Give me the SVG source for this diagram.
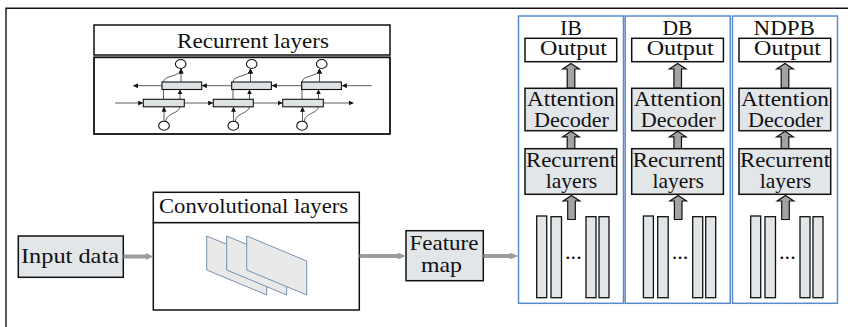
<svg xmlns="http://www.w3.org/2000/svg" width="848" height="327" viewBox="0 0 848 327">
<style>
text{font-family:"Liberation Serif","Times New Roman",serif;font-size:21px;fill:#111}
.box{fill:#fff;stroke:#111;stroke-width:1.5}
.gbox{fill:#e2e6e9;stroke:#111;stroke-width:1.5}
.cell{fill:#dde2e5;stroke:#111;stroke-width:1.1}
.circ{fill:#fff;stroke:#111;stroke-width:1.1}
.thin{fill:none;stroke:#333;stroke-width:0.8;marker-end:url(#ah)}
.panel{fill:#fff;stroke:#5a8ccb;stroke-width:1.5}
.barr{fill:#e2e6e9;stroke:#111;stroke-width:1.3}
.blk{fill:#a3a3a3;stroke:#111;stroke-width:1.2}
.gline{stroke:#9c9c9c;stroke-width:4}
.ghead{fill:#9c9c9c}
.plane{fill:#e9e9e9;stroke:#7792b0;stroke-width:1}
</style>
<defs>
<marker id="ah" viewBox="0 0 6 6" refX="5.5" refY="3" markerWidth="5" markerHeight="5" markerUnits="userSpaceOnUse" orient="auto"><path d="M0,0L6,3L0,6z" fill="#111"/></marker>
<g id="panelBody">
<rect class="box" x="525" y="38.3" width="91.7" height="23.4"/>
<text x="540" y="54.5" textLength="67" lengthAdjust="spacingAndGlyphs">Output</text>
<path class="blk" d="M571,63.5L579.3,69L574.8,69L574.8,88L567.2,88L567.2,69L562.7,69Z"/>
<rect class="gbox" x="525" y="88.3" width="91.7" height="42.4"/>
<text x="527" y="105.5" textLength="88" lengthAdjust="spacingAndGlyphs">Attention</text>
<text x="534" y="127" textLength="75" lengthAdjust="spacingAndGlyphs">Decoder</text>
<path class="blk" d="M571,131.3L579.3,136.8L574.8,136.8L574.8,148.5L567.2,148.5L567.2,136.8L562.7,136.8Z"/>
<rect class="gbox" x="525" y="148.7" width="91.7" height="45.6"/>
<text x="526" y="167" textLength="90" lengthAdjust="spacingAndGlyphs">Recurrent</text>
<text x="545.7" y="188" textLength="51.6" lengthAdjust="spacingAndGlyphs">layers</text>
<path class="blk" d="M571.5,195.5L579.8,201L575.3,201L575.3,219.5L567.7,219.5L567.7,201L563.2,201Z"/>
<rect class="barr" x="536.7" y="216" width="10" height="81.7"/>
<rect class="barr" x="551" y="216.7" width="10.5" height="81"/>
<rect class="barr" x="586" y="216.7" width="10" height="81"/>
<rect class="barr" x="599" y="216.7" width="10" height="81"/>
<text x="565" y="259" textLength="16.7" lengthAdjust="spacingAndGlyphs">...</text>
</g>
<g id="rcell">
<path class="thin" d="M164,121.2L164,107.2"/>
<path class="thin" d="M165.5,121.5C167,112 180,114 180,106L180,89.8"/>
<path class="thin" d="M163.5,99.3L163.5,82C163.5,75 181,77 181,69"/>
<path class="thin" d="M181,82L181,69"/>
</g>
</defs>

<path d="M6,327L6,8.3L848,8.3" fill="none" stroke="#111" stroke-width="1.4"/>

<g id="recurrent-layers">
<rect class="box" x="94" y="25" width="296" height="30"/>
<text x="177" y="48" textLength="152" lengthAdjust="spacingAndGlyphs">Recurrent layers</text>
<rect class="box" x="94" y="57.3" width="296" height="76.7" style="stroke-width:1.8"/>
<g id="rnn-arrows">
<path class="thin" d="M371.7,85.7L342.2,85.7"/>
<path class="thin" d="M301.7,85.7L272.2,85.7"/>
<path class="thin" d="M231.7,85.7L202.2,85.7"/>
<path class="thin" d="M162,85.7L133.3,85.7"/>
<path class="thin" d="M115,103L142.8,103"/>
<path class="thin" d="M184.3,103L212.8,103"/>
<path class="thin" d="M253.3,103L282.2,103"/>
<path class="thin" d="M323.3,103L353.3,103"/>
<use href="#rcell"/>
<use href="#rcell" transform="translate(69.5,0)"/>
<use href="#rcell" transform="translate(138.5,0)"/>
</g>
<rect class="cell" x="162" y="82" width="39.7" height="7.5"/>
<rect class="cell" x="231.7" y="82" width="39.7" height="7.5"/>
<rect class="cell" x="301.7" y="82" width="39.7" height="7.5"/>
<rect class="cell" x="143.3" y="99.3" width="41" height="7.5"/>
<rect class="cell" x="213.3" y="99.3" width="40" height="7.5"/>
<rect class="cell" x="282.7" y="99.3" width="40.6" height="7.5"/>
<ellipse class="circ" cx="180.7" cy="64" rx="5.3" ry="4.5"/>
<ellipse class="circ" cx="251.7" cy="64" rx="5.3" ry="4.5"/>
<ellipse class="circ" cx="321.7" cy="64" rx="5.3" ry="4.5"/>
<ellipse class="circ" cx="164" cy="125.7" rx="5.3" ry="4.5"/>
<ellipse class="circ" cx="233.3" cy="125.7" rx="5.3" ry="4.5"/>
<ellipse class="circ" cx="302" cy="125.7" rx="5.3" ry="4.5"/>
</g>

<g id="input-data">
<rect class="gbox" x="18.3" y="236" width="105" height="41.3"/>
<text x="21" y="263" textLength="98" lengthAdjust="spacingAndGlyphs">Input data</text>
</g>

<g id="convolutional-layers">
<rect class="box" x="153.3" y="192.3" width="206" height="30.4"/>
<text x="159" y="213" textLength="189" lengthAdjust="spacingAndGlyphs">Convolutional layers</text>
<rect class="box" x="153.3" y="222.7" width="206" height="87.3"/>
<path class="plane" d="M206.7,236L266.7,261L266.7,295L206.7,270Z"/>
<path class="plane" d="M226.7,236L286.7,261L286.7,295L226.7,270Z"/>
<path class="plane" d="M246.7,236L306.7,261L306.7,295L246.7,270Z"/>
</g>

<g id="feature-map">
<rect class="gbox" x="406" y="230.7" width="77.3" height="50"/>
<text x="409.5" y="249.5" textLength="69" lengthAdjust="spacingAndGlyphs">Feature</text>
<text x="421" y="271.5" textLength="41" lengthAdjust="spacingAndGlyphs">map</text>
</g>

<g id="panel-ib">
<rect class="panel" x="518.5" y="16" width="105" height="287.3"/>
<text x="560" y="35" textLength="22" lengthAdjust="spacingAndGlyphs">IB</text>
<use href="#panelBody"/>
</g>
<g id="panel-db">
<rect class="panel" x="625.2" y="16" width="105" height="287.3"/>
<text x="662.5" y="35" textLength="30" lengthAdjust="spacingAndGlyphs">DB</text>
<use href="#panelBody" transform="translate(106.7,0)"/>
</g>
<g id="panel-ndpb">
<rect class="panel" x="732.5" y="16" width="105" height="287.3"/>
<text x="753.5" y="35" textLength="61.5" lengthAdjust="spacingAndGlyphs">NDPB</text>
<use href="#panelBody" transform="translate(214,0)"/>
</g>

<g id="connectors">
<line class="gline" x1="123.5" y1="256.5" x2="147" y2="256.5"/>
<path class="ghead" d="M146,253L153.3,256.5L146,260Z"/>
<line class="gline" x1="359.5" y1="256" x2="399" y2="256"/>
<path class="ghead" d="M398,252.5L406,256L398,259.5Z"/>
<line class="gline" x1="483.5" y1="256" x2="511" y2="256"/>
<path class="ghead" d="M510,252.5L518.3,256L510,259.5Z"/>
</g>
</svg>
